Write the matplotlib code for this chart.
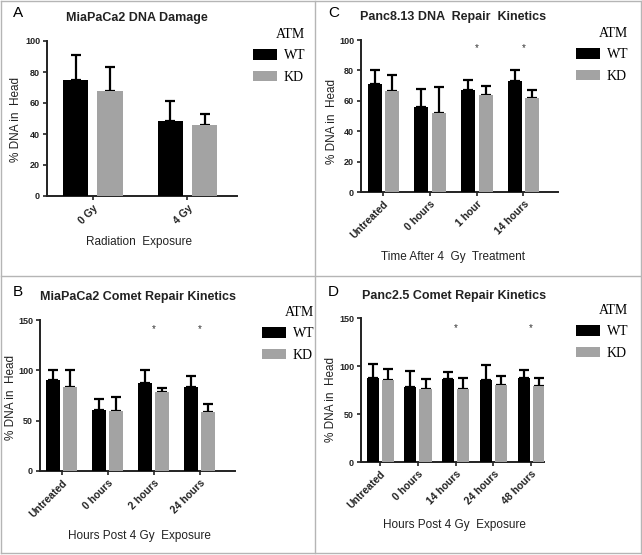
import numpy as np
import matplotlib
matplotlib.use("Agg")
import matplotlib.pyplot as plt
from matplotlib.lines import Line2D

plt.rcParams['font.family'] = ['Liberation Sans', 'DejaVu Sans']

W, H = 642, 555

# Panel A - MiaPaCa2 DNA damage
a_cats = ['0 Gy', '4 Gy']
a_wt = [75, 48.5]
a_wt_err = [16, 12.5]
a_kd = [68, 45.5]
a_kd_err = [15, 7.5]
a_stars = []

# Panel B - MiaPaCa2 comet repair kinetics
b_cats = ['Untreated', '0 hours', '2 hours', '24 hours']
b_wt = [90, 61, 87, 83]
b_wt_err = [10, 11, 13, 11]
b_kd = [83, 60, 78, 59]
b_kd_err = [17, 14, 4, 8]
b_stars = [2, 3]

# Panel C - Panc8.13 DNA repair kinetics
c_cats = ['Untreated', '0 hours', '1 hour', '14 hours']
c_wt = [71, 56, 67, 73]
c_wt_err = [9.5, 12, 7, 7.5]
c_kd = [66.5, 52, 64, 62]
c_kd_err = [10.5, 17, 6, 5]
c_stars = [2, 3]

# Panel D - Panc2.5 comet repair kinetics
d_cats = ['Untreated', '0 hours', '14 hours', '24 hours', '48 hours']
d_wt = [88, 78, 86, 85, 88]
d_wt_err = [14, 17, 8, 16, 8]
d_kd = [85, 76, 76, 80, 79]
d_kd_err = [12, 10, 12, 10, 9]
d_stars = [2, 4]

WT_COLOR = 'black'
KD_COLOR = '#a3a3a3'

fig = plt.figure(figsize=(W / 100, H / 100), dpi=100)


def px_axes(x0, ytop, x1, ybot):
    return fig.add_axes([x0 / W, 1 - ybot / H, (x1 - x0) / W, (ybot - ytop) / H])


def panel(box, cats, wt, wt_err, kd, kd_err, stars, ymax, yticks, xlim,
          bw, off, star_y, letter, title, xlabel, txt):
    ax = px_axes(*box)
    x = np.arange(len(cats))
    b1 = ax.bar(x - off, wt, bw, color=WT_COLOR, label='WT', zorder=3)
    b2 = ax.bar(x + off, kd, bw, color=KD_COLOR, label='KD', zorder=3)
    ax.errorbar(x - off, wt, yerr=[np.zeros(len(wt)), wt_err], fmt='none',
                ecolor='black', elinewidth=1.6, capsize=3.5, capthick=1.6, zorder=2)
    ax.errorbar(x + off, kd, yerr=[np.zeros(len(kd)), kd_err], fmt='none',
                ecolor='black', elinewidth=1.6, capsize=3.5, capthick=1.6, zorder=2)
    for s in stars:
        ax.text(s, star_y, '*', ha='center', va='center', fontsize=7, color='#333333')
    ax.set_ylim(0, ymax)
    ax.set_xlim(*xlim)
    ax.set_yticks(yticks)
    ax.set_xticks(x)
    ax.set_xticklabels(cats, rotation=45, ha='right', rotation_mode='anchor',
                       fontsize=7.5, fontweight='bold', color='#222222')
    ax.tick_params(axis='y', labelsize=6.5, width=1.2, length=3, pad=2,
                   colors='#222222')
    ax.tick_params(axis='x', width=1.2, length=3, pad=2, colors='#222222')
    for lab in ax.get_yticklabels():
        lab.set_fontweight('bold')
    for sp in ['top', 'right']:
        ax.spines[sp].set_visible(False)
    for sp in ['left', 'bottom']:
        ax.spines[sp].set_linewidth(1.4)
        ax.spines[sp].set_color('#222222')
    # titles and labels
    lx, ly = txt['letter']
    fig.text(lx / W, 1 - ly / H, letter, fontsize=11, ha='left', va='center')
    tx, ty = txt['title']
    fig.text(tx / W, 1 - ty / H, title, fontsize=9, fontweight='bold',
             ha='center', va='center', color='#222222')
    xx, xy = txt['xlabel']
    fig.text(xx / W, 1 - xy / H, xlabel, fontsize=8.5, ha='center', va='center',
             color='#222222')
    yx, yy = txt['ylabel']
    fig.text(yx / W, 1 - yy / H, '% DNA in  Head', fontsize=8.5, rotation=90,
             ha='center', va='center', color='#222222')
    gx, gy = txt['legend']
    ax.legend(handles=[b1, b2], title='ATM', loc='upper left',
              bbox_to_anchor=(gx / W, 1 - gy / H), bbox_transform=fig.transFigure,
              frameon=False, prop={'family': 'Liberation Serif', 'size': 10},
              title_fontproperties={'family': 'Liberation Serif', 'size': 10},
              handlelength=1.7, handleheight=0.75, handletextpad=0.5,
              labelspacing=0.6, borderpad=0, borderaxespad=0,
              alignment='right')
    return ax


panel((47, 41, 237, 196), a_cats, a_wt, a_wt_err, a_kd, a_kd_err, a_stars,
      100, [0, 20, 40, 60, 80, 100], (-0.484, 1.526), 0.265, 0.1825, 95,
      'A', 'MiaPaCa2 DNA Damage', 'Radiation  Exposure',
      {'letter': (13, 13), 'title': (137, 18), 'xlabel': (139, 242),
       'ylabel': (16, 119), 'legend': (253, 28)})

panel((361, 40, 558, 192), c_cats, c_wt, c_wt_err, c_kd, c_kd_err, c_stars,
      100, [0, 20, 40, 60, 80, 100], (-0.48, 3.74), 0.30, 0.19, 95,
      'C', 'Panc8.13 DNA  Repair  Kinetics', 'Time After 4  Gy  Treatment',
      {'letter': (328, 13), 'title': (453, 17), 'xlabel': (453, 257),
       'ylabel': (332, 122), 'legend': (576, 27)})

panel((40, 320, 235, 471), b_cats, b_wt, b_wt_err, b_kd, b_kd_err, b_stars,
      150, [0, 50, 100, 150], (-0.47, 3.77), 0.31, 0.19, 141,
      'B', 'MiaPaCa2 Comet Repair Kinetics', 'Hours Post 4 Gy  Exposure',
      {'letter': (13, 292), 'title': (138, 297), 'xlabel': (139, 536),
       'ylabel': (11, 398), 'legend': (262, 306)})

panel((361, 318, 544, 462), d_cats, d_wt, d_wt_err, d_kd, d_kd_err, d_stars,
      150, [0, 50, 100, 150], (-0.51, 4.34), 0.32, 0.2, 139,
      'D', 'Panc2.5 Comet Repair Kinetics', 'Hours Post 4 Gy  Exposure',
      {'letter': (328, 292), 'title': (454, 296), 'xlabel': (454, 525),
       'ylabel': (331, 400), 'legend': (576, 304)})

# panel frame lines
border = '#b5b5b5'
for (x0, y0, x1, y1) in [(1, 1, 641, 1), (1, 553, 641, 553), (1, 1, 1, 553),
                         (641, 1, 641, 553), (315, 1, 315, 553), (1, 276, 641, 276)]:
    fig.add_artist(Line2D([x0 / W, x1 / W], [1 - y0 / H, 1 - y1 / H],
                          color=border, lw=1, transform=fig.transFigure))

fig.savefig('out.png', dpi=100)
